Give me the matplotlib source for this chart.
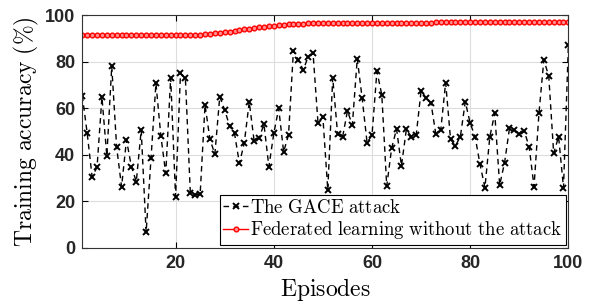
import numpy as np
import matplotlib
matplotlib.use("Agg")
import matplotlib.pyplot as plt

plt.rcParams['mathtext.fontset'] = 'cm'
plt.rcParams['font.family'] = ['DejaVu Serif']

episodes = list(range(1, 101))

gace_attack = [
    65.4, 49.2, 30.6, 34.6, 64.7, 39.5, 78.0, 43.2, 26.3, 46.4,
    34.9, 28.5, 50.6, 6.7, 38.6, 70.7, 48.1, 32.0, 73.1, 22.0,
    75.0, 72.8, 23.7, 22.9, 23.0, 61.4, 46.6, 40.3, 65.0, 59.2,
    52.4, 49.2, 36.3, 45.2, 62.7, 45.9, 47.1, 53.1, 34.9, 49.2,
    59.9, 41.3, 48.5, 84.7, 80.7, 76.4, 82.1, 83.5, 53.8, 56.1,
    24.9, 73.1, 48.9, 47.5, 58.8, 52.8, 81.3, 64.2, 45.2, 48.4,
    75.8, 65.7, 26.6, 42.8, 51.1, 35.3, 50.9, 47.8, 48.4, 67.5,
    64.5, 62.4, 48.9, 50.6, 71.0, 46.6, 43.9, 47.8, 62.8, 53.5,
    47.8, 35.9, 25.9, 47.8, 57.8, 27.0, 36.6, 51.4, 50.6, 48.8,
    50.2, 43.5, 26.3, 57.8, 80.7, 73.8, 40.6, 47.8, 25.9, 87.1,
]

fl_no_attack = [
    91.3, 91.3, 91.3, 91.3, 91.3, 91.3, 91.3, 91.3, 91.3, 91.3,
    91.3, 91.3, 91.3, 91.3, 91.3, 91.3, 91.3, 91.3, 91.3, 91.3,
    91.3, 91.3, 91.4, 91.5, 91.6, 91.8, 92.0, 92.2, 92.4, 92.6,
    92.9, 93.2, 93.5, 93.8, 94.1, 94.4, 94.7, 95.0, 95.2, 95.4,
    95.6, 95.8, 96.0, 96.1, 96.2, 96.3, 96.4, 96.4, 96.5, 96.5,
    96.5, 96.6, 96.6, 96.6, 96.6, 96.6, 96.6, 96.6, 96.7, 96.7,
    96.7, 96.7, 96.7, 96.7, 96.7, 96.7, 96.7, 96.7, 96.7, 96.7,
    96.7, 96.7, 96.8, 96.8, 96.8, 96.8, 96.8, 96.8, 96.8, 96.8,
    96.8, 96.8, 96.8, 96.8, 96.8, 96.9, 96.9, 96.9, 96.9, 96.9,
    96.9, 96.9, 96.9, 96.9, 96.9, 96.9, 97.0, 97.0, 97.0, 97.0,
]

xticks = [20, 40, 60, 80, 100]
yticks = [0, 20, 40, 60, 80, 100]

fig = plt.figure(figsize=(5.95, 3.05), dpi=100)
ax = fig.add_axes([0.1383, 0.1869, 0.8170, 0.7639])

ax.plot(episodes, gace_attack, color='black', linestyle=(0, (4, 3)), linewidth=1.0,
        marker='x', markersize=4, markeredgewidth=1.4,
        label=r'$\mathrm{The\ GACE\ attack}$')
ax.plot(episodes, fl_no_attack, color='red', linestyle='-', linewidth=1.0,
        marker='o', markersize=3.4, markeredgewidth=1.0, markerfacecolor='#ff9090',
        label=r'$\mathrm{Federated\ learning\ without\ the\ attack}$')

ax.set_xlim(1, 100)
ax.set_ylim(0, 100)
ax.set_xticks(xticks)
ax.set_yticks(yticks)
ax.grid(True, color='#dddddd', linewidth=0.8)
ax.set_axisbelow(True)
ax.tick_params(direction='in', top=True, right=True, length=4, width=0.8,
               labelsize=13, pad=5)
for lab in ax.get_xticklabels() + ax.get_yticklabels():
    lab.set_fontfamily('Liberation Sans')
    lab.set_fontweight('bold')
    lab.set_color('#262626')
for sp in ax.spines.values():
    sp.set_color('#333333')
    sp.set_linewidth(0.8)

ax.set_xlabel(r'$\mathrm{Episodes}$', fontsize=17, labelpad=3)
ax.set_ylabel(r'$\mathrm{Training\ accuracy\ (\%)}$', fontsize=17, labelpad=3)

leg = ax.legend(loc='lower right', fontsize=13.5, handlelength=1.3, handletextpad=0.1,
                borderaxespad=0.15, borderpad=0.2, labelspacing=0.15,
                fancybox=False, framealpha=1, edgecolor='black')
leg.get_frame().set_linewidth(0.8)

fig.savefig('out.png', dpi=100)
